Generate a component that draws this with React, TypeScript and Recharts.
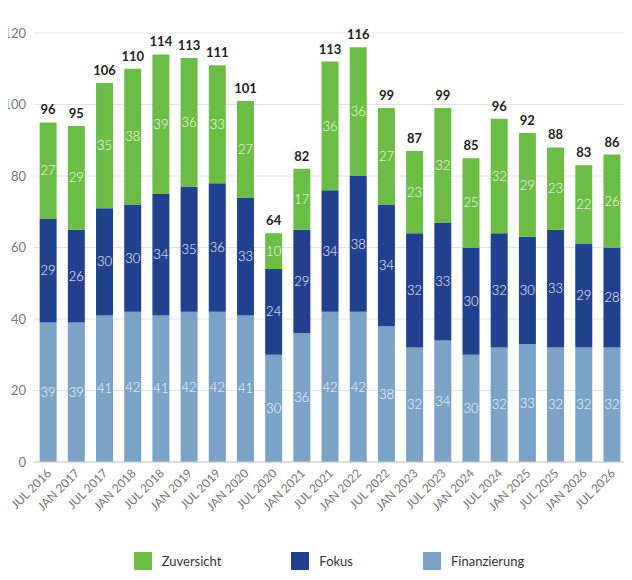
import { BarChart, Bar, XAxis, YAxis, CartesianGrid, LabelList, Legend } from "recharts";

const categories = ["JUL 2016","JAN 2017","JUL 2017","JAN 2018","JUL 2018","JAN 2019","JUL 2019","JAN 2020","JUL 2020","JAN 2021","JUL 2021","JAN 2022","JUL 2022","JAN 2023","JUL 2023","JAN 2024","JUL 2024","JAN 2025","JUL 2025","JAN 2026","JUL 2026"];
const finanzierung = [39,39,41,42,41,42,42,41,30,36,42,42,38,32,34,30,32,33,32,32,32];
const fokus = [29,26,30,30,34,35,36,33,24,29,34,38,34,32,33,30,32,30,33,29,28];
const zuversicht = [27,29,35,38,39,36,33,27,10,17,36,36,27,23,32,25,32,29,23,22,26];
const totals = [96,95,106,110,114,113,111,101,64,82,113,116,99,87,99,85,96,92,88,83,86];
const yTicks = [0,20,40,60,80,100,120];

const data = categories.map((c, i) => ({
  name: c,
  finanzierung: finanzierung[i],
  fokus: fokus[i],
  zuversicht: zuversicht[i],
  total: totals[i],
}));

const legendItems = [
  { label: "Zuversicht", color: "#6cbd45" },
  { label: "Fokus", color: "#21408e" },
  { label: "Finanzierung", color: "#7ba3c8" },
];

function CustomLegend() {
  return (
    <div style={{ display: "flex", justifyContent: "center", gap: 70, fontSize: 13, color: "#333", marginLeft: 30 }}>
      {legendItems.map((l) => (
        <span key={l.label} style={{ display: "flex", alignItems: "center", gap: 10 }}>
          <span style={{ width: 18, height: 18, background: l.color, display: "inline-block" }} />
          {l.label}
        </span>
      ))}
    </div>
  );
}

function RotTick({ x, y, payload }: any) {
  return (
    <text x={x + 4} y={y + 4} textAnchor="end" fontSize={12} fill="#777" transform={`rotate(-45 ${x + 4} ${y + 4})`}>
      {payload.value}
    </text>
  );
}

const inner = { fill: "#fff", fontSize: 13, fontWeight: 300 };

export default function App() {
  return (
    <div style={{ margin: -8, fontFamily: "Lato, 'Open Sans', sans-serif", background: "#fff" }}>
      <BarChart width={632} height={580} data={data} barCategoryGap="20%"
        margin={{ top: 33, right: 6, left: 2, bottom: 10 }}>
        <CartesianGrid vertical={false} stroke="#e3e3e3" />
        <XAxis dataKey="name" interval={0} tick={<RotTick />} tickLine={false} axisLine={{ stroke: "#ccc" }} height={90} />
        <YAxis domain={[0, 120]} ticks={yTicks} tickLine={false} axisLine={false} width={32}
          tick={{ fontSize: 13, fill: "#777" }} />
        <Legend content={<CustomLegend />} verticalAlign="bottom" />
        <Bar dataKey="finanzierung" stackId="a" fill="#7ba3c8" isAnimationActive={false}>
          <LabelList dataKey="finanzierung" position="center" style={inner} />
        </Bar>
        <Bar dataKey="fokus" stackId="a" fill="#21408e" isAnimationActive={false}>
          <LabelList dataKey="fokus" position="center" style={inner} />
        </Bar>
        <Bar dataKey="zuversicht" stackId="a" fill="#6cbd45" isAnimationActive={false}>
          <LabelList dataKey="zuversicht" position="center" style={inner} />
          <LabelList dataKey="total" position="top" offset={8} style={{ fill: "#222", fontSize: 13, fontWeight: 700 }} />
        </Bar>
      </BarChart>
    </div>
  );
}
